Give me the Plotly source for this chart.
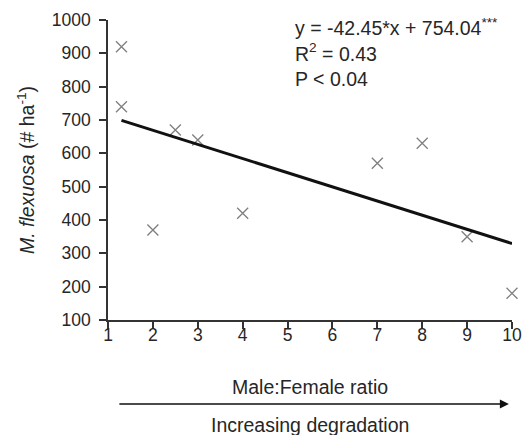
import plotly.graph_objects as go

ratio = [1.3, 1.3, 2, 2.5, 3, 4, 7, 8, 9, 10]
density = [920, 740, 370, 670, 640, 420, 570, 630, 350, 180]
slope = -42.45
intercept = 754.04
fit_x = [1.3, 10]
fit_y = [slope * v + intercept for v in fit_x]
x_ticks = list(range(1, 11))
y_ticks = list(range(100, 1001, 100))

FONT = "Liberation Sans, Arial, sans-serif"
TXT = "#262626"
AX = "#333333"

fig = go.Figure()
fig.add_trace(go.Scatter(
    x=ratio, y=density, mode="markers",
    marker=dict(symbol="x-thin", size=11, line=dict(color="#7f7f7f", width=1.3)),
    cliponaxis=False, showlegend=False))
fig.add_trace(go.Scatter(
    x=fit_x, y=fit_y, mode="lines",
    line=dict(color="#111111", width=3), cliponaxis=False, showlegend=False))

fig.update_layout(
    width=528, height=435,
    margin=dict(l=108, r=16, t=20, b=115, autoexpand=False),
    paper_bgcolor="white", plot_bgcolor="white",
    font=dict(family=FONT, size=17.5, color=TXT),
    xaxis=dict(range=[1, 10], tickvals=x_ticks, showgrid=False, zeroline=False,
               showline=True, linecolor=AX, linewidth=1.5, automargin=False,
               ticks="outside", ticklen=7, tickcolor=AX, tickwidth=1.5,
               ticklabelstandoff=-9,
               tickfont=dict(size=17.5, color=TXT)),
    yaxis=dict(range=[100, 1000], tickvals=y_ticks, showgrid=False, zeroline=False,
               showline=True, linecolor=AX, linewidth=1.5, automargin=False,
               ticks="outside", ticklen=7, tickcolor=AX, tickwidth=1.5,
               ticklabelstandoff=5,
               tickfont=dict(size=17.5, color=TXT),
               title=dict(text="<i>M. flexuosa</i> (# ha<sup>-1</sup>)", font=dict(size=19.5, color=TXT),
                          standoff=12)),
    annotations=[
        dict(xref="paper", yref="paper", x=0.458, y=1.025, xanchor="left", yanchor="top",
             align="left", showarrow=False, font=dict(size=19.5, color=TXT),
             text="y = -42.45*x + 754.04<sup>***</sup><br>R<sup>2</sup> = 0.43<br>P < 0.04"),
        dict(xref="paper", yref="paper", x=0.5, y=-0.223, xanchor="center", yanchor="middle",
             showarrow=False, text="Male:Female ratio", font=dict(size=19.5, color=TXT)),
        dict(xref="paper", yref="paper", x=0.5, y=-0.35, xanchor="center", yanchor="middle",
             showarrow=False, text="Increasing degradation", font=dict(size=19.5, color=TXT)),
        dict(xref="x", yref="paper", x=9.93, y=-0.28, axref="x", ayref="pixel", ax=1.22, ay=0,
             showarrow=True, arrowhead=2, arrowsize=1.2, arrowwidth=1.5, arrowcolor="#111111", text=""),
    ],
)
fig.write_html("out.html", config={"displayModeBar": False},
               post_script="document.body.style.margin='0';document.body.style.overflow='hidden';")
